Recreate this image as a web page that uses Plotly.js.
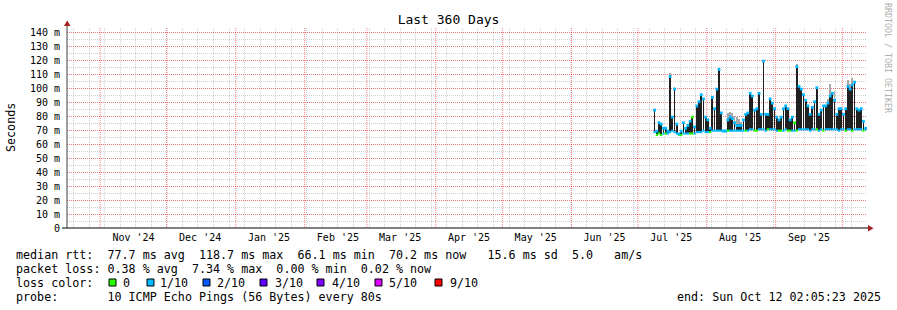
<!DOCTYPE html>
<html><head><meta charset="utf-8">
<script src="https://cdn.plot.ly/plotly-3.0.1.min.js"></script>
<style>html,body{margin:0;padding:0;background:#fff;}#chart{width:897px;height:310px;}
path.x3grid{shape-rendering:auto !important;}</style>
</head><body><div id="chart"></div>
<script>
// ---- data, one entry per day starting 2025-07-08 ----
const firstDay = [2025, 6, 8];
const smokeHigh = [85,70,76,75,72,72,70,109,80,100,75,68,70,76,72,74,77,80,73,88,91,96,93,80,78,72,94,86,100,114,83,70,70,78,80,79,76,74,74,74,78,82,83,97,95,85,86,97,82,120,82,82,93,90,86,80,78,80,86,88,86,78,80,76,116,102,100,96,92,88,82,87,91,101,82,85,88,88,90,95,97,92,82,86,86,82,86,102,100,103,105,86,85,86,77,72];
const smokeLow  = [68,66,67,66,67,67,67,68,69,68,67,66,66,67,67,67,67,67,67,68,68,68,69,68,68,68,69,69,69,69,69,69,69,69,69,69,69,69,69,69,69,69,69,70,70,69,69,70,70,70,69,70,70,70,70,69,69,69,69,70,69,69,69,69,69,70,70,70,70,70,69,70,70,70,69,70,69,70,70,70,70,70,70,69,70,70,69,70,70,69,70,70,70,70,69,70];
const lightSmokeTop = [85,70,76,75,72,72,70,111,80,101,75,68,70,76,72,74,77,80,73,88,91,96,93,80,78,72,94,86,100,114,83,70,70,82,83,82,80,79,78,76,78,82,83,97,95,85,86,97,82,120,82,82,93,90,86,80,78,80,86,88,86,78,80,76,117,102,100,96,92,88,82,87,91,101,82,85,88,88,92,103,97,98,82,86,86,82,86,106,103,107,105,86,85,86,77,72];
const lossAtHigh = [1,1,1,1,1,1,1,1,1,1,1,1,1,1,1,1,1,0,1,1,1,1,1,1,1,1,1,1,1,1,1,1,1,1,1,1,1,1,1,1,1,1,1,1,1,1,1,1,1,1,1,1,1,1,1,1,1,1,1,1,1,1,1,0,1,1,1,1,1,1,1,1,1,1,1,1,1,1,1,1,1,1,1,1,1,1,1,1,1,1,1,1,1,1,1,1];
const lossAtLow  = [1,0,0,0,1,0,1,1,1,1,1,0,0,1,1,1,0,0,1,1,1,1,1,1,1,0,1,1,1,1,1,1,1,0,1,1,1,1,1,1,1,0,1,1,1,0,0,1,1,1,1,0,1,1,1,1,0,0,1,1,0,0,1,1,0,1,1,1,1,1,1,1,1,0,1,1,0,1,1,1,1,1,1,1,1,1,0,1,1,0,1,1,1,1,0,1];
const lossColors = ['#26ff00','#00b8ff','#0059ff','#5e00ff','#7e00ff','#dd00ff','#ff0000'];
const lossLabels = ['0','1/10','2/10','3/10','4/10','5/10','9/10'];
const yTickVals = [0,10,20,30,40,50,60,70,80,90,100,110,120,130,140];
const yTickText = ['0','10 m','20 m','30 m','40 m','50 m','60 m','70 m','80 m','90 m','100 m','110 m','120 m','130 m','140 m'];
const monthStarts = ['2024-11-01','2024-12-01','2025-01-01','2025-02-01','2025-03-01','2025-04-01','2025-05-01','2025-06-01','2025-07-01','2025-08-01','2025-09-01','2025-10-01'];
const monthLabels = ["Nov '24","Dec '24","Jan '25","Feb '25","Mar '25","Apr '25","May '25","Jun '25","Jul '25","Aug '25","Sep '25"];
const rttStats = ['77.7','118.7','66.1','70.2','15.6','5.0'];
const lossStats = ['0.38','7.34','0.00','0.02'];
const rangeStart = '2024-10-17 02:05:23';
const rangeEnd = '2025-10-12 02:05:23';

// ---- helpers ----
const fmt = d => d.toISOString().slice(0,19).replace('T',' ');
const days = smokeHigh.map((_, i) => fmt(new Date(Date.UTC(firstDay[0], firstDay[1], firstDay[2] + i, 12))));
const labelVals = monthLabels.map((_, i) => { const d = new Date(monthStarts[i] + 'T00:00:00Z'); d.setUTCDate(d.getUTCDate() + 15); return fmt(d); });
const L = 67, R = 867, T = 28, B = 228;
const px = p => (p - L) / (R - L);
const py = p => (B - p) / (B - T);
const sp = s => s.replace(/ /g, '\u00a0');
const DAY = 86400000;

const traces = [
  { type:'bar', x:days, base:smokeHigh, y:lightSmokeTop.map((v,i)=>v-smokeHigh[i]), width:DAY*0.8,
    marker:{color:'#a8a8a8', line:{width:0}}, hoverinfo:'skip' },
  { type:'bar', x:days, base:smokeLow, y:smokeHigh.map((v,i)=>v-smokeLow[i]), width:DAY*0.8,
    marker:{color:'#202020', line:{width:0}}, hoverinfo:'skip' },
  { type:'scatter', mode:'markers', x:days, y:smokeLow.map(v=>v+0.5), cliponaxis:false,
    marker:{symbol:'square', size:2.2, color:lossAtLow.map(k=>lossColors[k]), line:{width:0}}, hoverinfo:'skip' },
  { type:'scatter', mode:'markers', x:days, y:smokeHigh.map(v=>v-0.8),
    marker:{symbol:'square', size:2.8, color:lossAtHigh.map(k=>lossColors[k]), line:{width:0}}, hoverinfo:'skip' },
  { type:'scatter', mode:'markers', x:[labelVals[0]], y:[null], xaxis:'x2', yaxis:'y', hoverinfo:'skip' },
  { type:'scatter', mode:'markers', x:[monthStarts[0]], y:[null], xaxis:'x3', yaxis:'y', hoverinfo:'skip' }
];

const mono = 'DejaVu Sans Mono, monospace';
const fs = 11.7;
const ann = [];
function txt(text, x, y, opts) {
  ann.push(Object.assign({ text: sp(text), xref:'paper', yref:'paper', x: px(x), y: py(y),
    xanchor:'left', yanchor:'middle', showarrow:false, borderpad:0, borderwidth:0,
    font:{family:mono, size:fs, color:'#000'} }, opts || {}));
}
txt('median rtt:  ' + rttStats[0] + ' ms avg  ' + rttStats[1] + ' ms max  ' + rttStats[2] + ' ms min  ' + rttStats[3] + ' ms now   ' + rttStats[4] + ' ms sd  ' + rttStats[5] + '   am/s', 16, 254.5);
txt('packet loss: ' + lossStats[0] + ' % avg  ' + lossStats[1] + ' % max  ' + lossStats[2] + ' % min  ' + lossStats[3] + ' % now', 16, 268.5);
txt('loss color:', 16, 282.7);
txt('probe:       10 ICMP Echo Pings (56 Bytes) every 80s', 16, 296.7);
txt('end: Sun Oct 12 02:05:23 2025', 881, 296.7, {xanchor:'right'});
txt('Seconds', 11, 127, {xanchor:'center', textangle:-90});
txt('RRDTOOL / TOBI OETIKER', 888, 58, {xanchor:'center', textangle:90, font:{family:mono, size:8.3, color:'#b0b0b0'}});

const boxX = [109, 147, 203, 260, 317, 375, 435];
const textX = [123, 160, 217, 275, 332, 389, 450];
const shapes = [];
lossLabels.forEach((lab, i) => {
  shapes.push({ type:'rect', xref:'paper', yref:'paper', x0:px(boxX[i]), x1:px(boxX[i]+7), y0:py(286), y1:py(279),
    fillcolor:lossColors[i], line:{color:'#000', width:1} });
  txt(lab, textX[i], 282.7);
});
// axes lines and arrows
shapes.push({ type:'line', xref:'paper', yref:'paper', x0:px(62), x1:px(869), y0:0, y1:0, line:{color:'#000', width:1} });
shapes.push({ type:'line', xref:'paper', yref:'paper', x0:0, x1:0, y0:0, y1:py(24), line:{color:'#404040', width:1} });
shapes.push({ type:'path', xref:'paper', yref:'paper', path:`M ${px(64)},${py(26)} L ${px(70.5)},${py(26)} L ${px(67.2)},${py(20.5)} Z`, fillcolor:'#a82020', line:{width:0} });
shapes.push({ type:'path', xref:'paper', yref:'paper', path:`M ${px(868)},${py(225)} L ${px(868)},${py(231.5)} L ${px(873.5)},${py(228.2)} Z`, fillcolor:'#a82020', line:{width:0} });

const redGrid = 'rgba(255,40,40,0.5)';
const greyGrid = 'rgba(150,150,150,0.45)';
const layout = {
  width:897, height:310, margin:{l:L, r:897-R, t:T, b:310-B, pad:0},
  paper_bgcolor:'#fff', plot_bgcolor:'#fff', showlegend:false,
  font:{family:mono, size:10, color:'#000'},
  barmode:'overlay', bargap:0,
  title:{text:'Last 360 Days', x:0.5, xref:'container', xanchor:'center', y:1-19/310, yref:'container', yanchor:'middle', font:{family:mono, size:13, color:'#000'}},
  // weekly grid (Sundays)
  xaxis:{type:'date', range:[rangeStart, rangeEnd], tickmode:'linear', tick0:'2024-10-20', dtick:7*DAY, showticklabels:false, ticks:'',
    showgrid:true, gridcolor:greyGrid, griddash:'1px,1px', gridwidth:1, zeroline:false, showline:false, fixedrange:true},
  // month labels
  xaxis2:{type:'date', overlaying:'x', anchor:'y', side:'bottom', range:[rangeStart, rangeEnd], tickmode:'array', tickvals:labelVals, ticktext:monthLabels,
    showgrid:false, zeroline:false, showline:false, ticks:'', ticklabelstandoff:2, tickfont:{family:mono, size:10, color:'#000'}},
  // month grid
  xaxis3:{type:'date', overlaying:'x', anchor:'y', side:'bottom', range:[rangeStart, rangeEnd], tickmode:'array', tickvals:monthStarts,
    showticklabels:false, ticks:'', showgrid:true, gridcolor:'rgba(255,40,40,0.6)', griddash:'1px,1px', gridwidth:1, zeroline:false, showline:false},
  yaxis:{range:[0, 142.86], tickmode:'array', tickvals:yTickVals, ticktext:yTickText, ticks:'', ticklabelstandoff:6,
    showgrid:true, gridcolor:redGrid, griddash:'1px,1px', gridwidth:1, zeroline:false, showline:false, fixedrange:true,
    tickfont:{family:mono, size:10, color:'#000'},
    minor:{tickmode:'linear', tick0:0, dtick:5, showgrid:true, gridcolor:greyGrid, griddash:'1px,1px', gridwidth:1, ticks:''}},
  annotations: ann, shapes: shapes
};
Plotly.newPlot('chart', traces, layout, {staticPlot:true, displayModeBar:false});
</script></body></html>
